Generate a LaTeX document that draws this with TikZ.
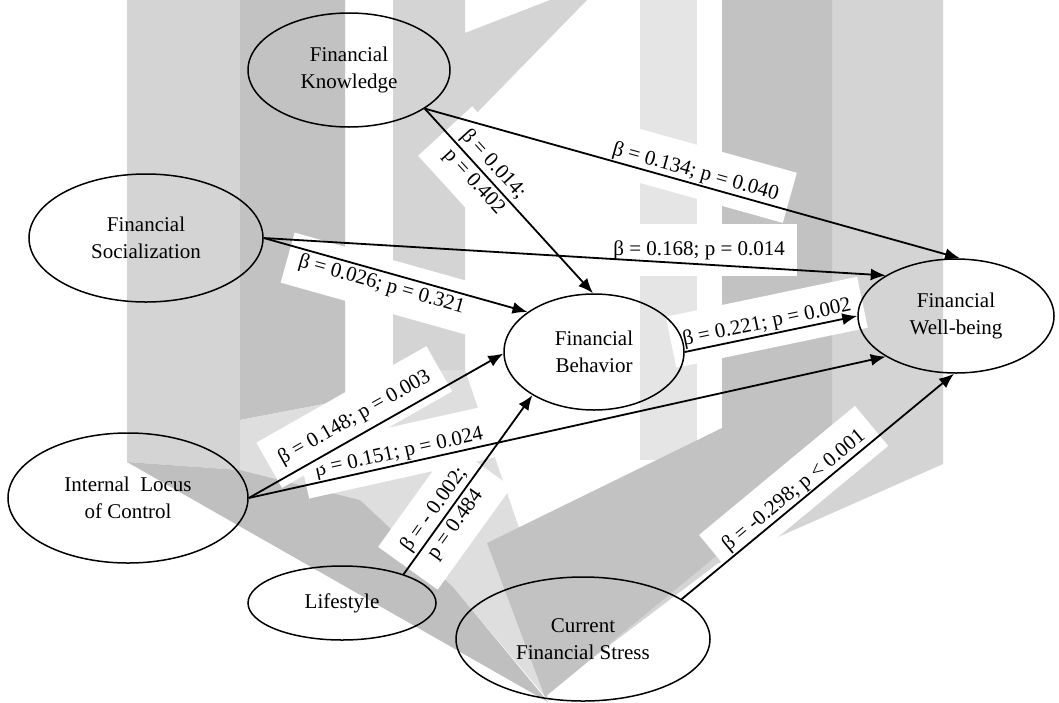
\documentclass[tikz,border=0pt]{standalone}
\usepackage{fontspec}
\setmainfont{Liberation Serif}
\usetikzlibrary{arrows.meta,shapes.geometric}
\pgfdeclarelayer{back}
\pgfdeclarelayer{boxes}
\pgfsetlayers{back,boxes,main}

\begin{document}
\begin{tikzpicture}[x=0.5pt,y=-0.5pt,>={Latex[length=7.5pt,width=6pt]}]
    \tikzset{
      var/.style={
        draw,
        ellipse,
        line width=0.75pt,
        align=center,
        inner sep=1pt,
        font=\fontsize{10.5}{13.5}\selectfont
      },
      coef/.style={
        fill=white,
        inner xsep=6pt,
        inner ysep=0pt,
        text height=16pt,
        text depth=10pt,
        font=\fontsize{10.5}{13}\selectfont
      },
      coeftwo/.style={
        fill=white,
        inner sep=7pt,
        align=center,
        font=\fontsize{10.5}{13}\selectfont
      },
      link/.style={draw, ->, line width=0.9pt}
    };

    % watermark
    \begin{pgfonlayer}{back}
      \fill[white] (0,0) rectangle (1059,702);
      \fill[black!17] (127,0) -- (240,0) -- (240,470) -- (127,462) -- cycle;
      \fill[black!24] (240,0) -- (345,0) -- (345,400) -- (240,420) -- cycle;
      \fill[black!13] (240,420) -- (345,400) -- (393,370) -- (465,370) -- (530,560) -- (548,700) -- (453,587) -- (360,500) -- (240,470) -- cycle;
      \fill[black!25] (127,462) -- (240,470) -- (360,500) -- (453,587) -- (548,702) -- cycle;
      \fill[black!17] (393,0) -- (465,0) -- (465,33) -- (550,0) -- (587,0) -- (465,125) -- (465,370) -- (393,370) -- cycle;
      \fill[black!10] (640,0) rectangle (697,460);
      \fill[black!17] (832,0) -- (943,0) -- (943,464) -- (717,564) -- (590,660) -- (832,461) -- cycle;
      \fill[black!24] (722,0) -- (832,0) -- (832,461) -- (545,697) -- (487,543) -- (722,428) -- cycle;
    \end{pgfonlayer}

    \node [var, minimum width=101pt, minimum height=57pt] (know) at (349,70) {Financial\\Knowledge};
    \node [var, minimum width=117pt, minimum height=64pt] (social) at (146,238) {Financial\\Socialization};
    \node [var, minimum width=90pt, minimum height=58pt] (behav) at (594,352) {Financial\\Behavior};
    \node [var, minimum width=98pt, minimum height=57pt] (wellb) at (956,316) {Financial\\Well-being};
    \node [var, minimum width=120pt, minimum height=65pt] (locus) at (128,498) {Internal~ Locus\\of Control};
    \node [var, minimum width=94pt, minimum height=37pt] (life) at (342,603) {Lifestyle};
    \node [var, minimum width=127pt, minimum height=62pt] (stress) at (583,639) {Current\\Financial Stress};

    % coefficients
    \begin{pgfonlayer}{boxes}
      \path (know.-27) -- (behav.91) node [coeftwo, sloped, pos=0.35] (kb) {β = 0.014;\\p = 0.402};
      \path (know.-27) -- (wellb.86) node [coef, sloped, above=-7pt, pos=0.5] (kw) {β = 0.134; p = 0.040};
      \path (social.east) -- (wellb.150) node [coef, above=-6pt, pos=0.7] (sw) {β = 0.168; p = 0.014};
      \path (social.east) -- (behav.149) node [coef, sloped, below=-7pt, pos=0.46] (sb) {β = 0.026; p = 0.321};
      \path (behav.east) -- (wellb.west) node [coef, sloped, above=-7pt, pos=0.49] (bw) {β = 0.221; p = 0.002};
      \path (locus.east) -- (wellb.210) node [coef, sloped, above=-7pt, pos=0.24] (lw) {β = 0.151; p = 0.024};
      \path (locus.east) -- (behav.181) node [coef, sloped, above=-4pt, pos=0.45] (lb) {β = 0.148; p = 0.003};
      \path (life.25) -- (behav.215) node [coeftwo, sloped, pos=0.32] (yb) {β = - 0.002;\\p = 0.484};
      \path (stress.22) -- (wellb.268) node [coef, sloped, above=-7pt, pos=0.44] (cw) {β = -0.298; p < 0.001};
    \end{pgfonlayer}

    \path[link] (know.-27) -- (behav.91);
    \path[link] (know.-27) -- (wellb.86);
    \path[link] (social.east) -- (wellb.150);
    \path[link] (social.east) -- (behav.149);
    \path[link] (behav.east) -- (wellb.west);
    \path[link] (locus.east) -- (behav.181);
    \path[link] (locus.east) -- (wellb.210);
    \path[link] (life.25) -- (behav.215);
    \path[link] (stress.22) -- (wellb.268);

\end{tikzpicture}
\end{document}
